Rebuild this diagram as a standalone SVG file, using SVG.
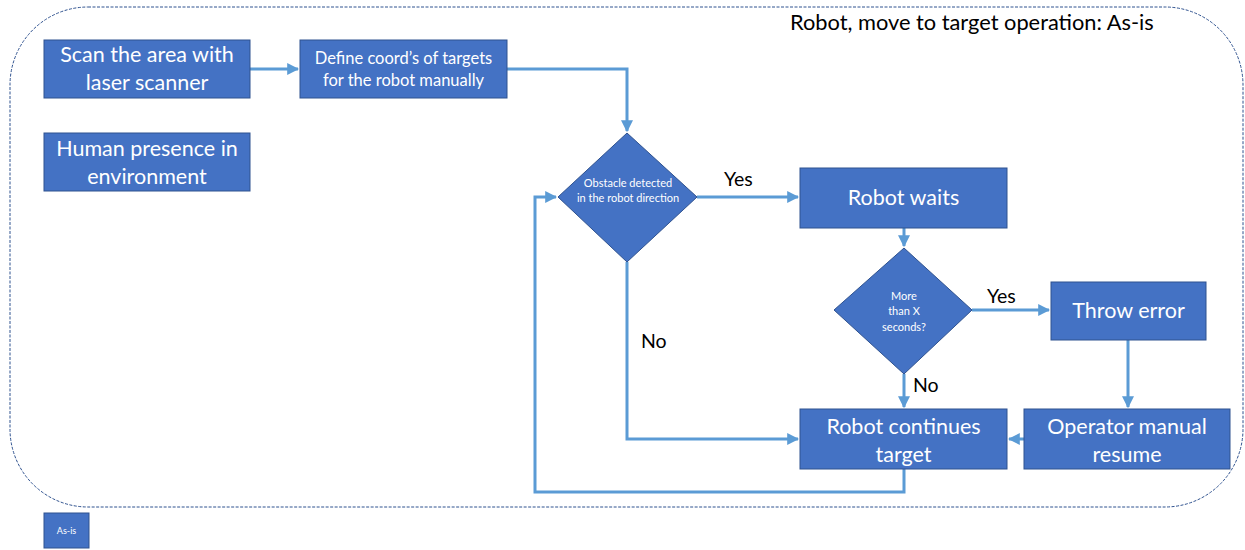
<svg xmlns="http://www.w3.org/2000/svg" width="1245" height="550" viewBox="0 0 1245 550">
  <style>
    .box { fill: #4472C4; stroke: #2F528F; stroke-width: 1; }
    .t { fill: #FFFFFF; font-family: Lato, "Open Sans", sans-serif; text-anchor: middle; }
    .big { font-size: 21.5px; }
    .mid { font-size: 16.5px; }
    .small { font-size: 11px; }
    .lbl { fill: #000000; font-family: Lato, "Open Sans", sans-serif; font-size: 19.5px; }
    .conn { fill: none; stroke: #5B9BD5; stroke-width: 3; }
  </style>
  <defs>
    <marker id="arrow" viewBox="0 0 10 10" refX="9" refY="5" markerWidth="4" markerHeight="4" orient="auto" markerUnits="strokeWidth">
      <path d="M0,0 L10,5 L0,10 z" fill="#5B9BD5"/>
    </marker>
  </defs>

  <rect width="1245" height="550" fill="#FFFFFF"/>

  <!-- process boundary -->
  <rect id="boundary" x="10" y="7" width="1233" height="500" rx="78" ry="78" fill="none" stroke="#2F528F" stroke-width="1" stroke-dasharray="3,1.5"/>
  <text id="title" x="790" y="30" font-family="Lato, 'Open Sans', sans-serif" font-size="21.8" fill="#000000">Robot, move to target operation: As-is</text>

  <!-- connectors -->
  <g id="connectors">
    <path class="conn" d="M250,69 L298,69" marker-end="url(#arrow)"/>
    <path class="conn" d="M507,69 L627,69 L627,131" marker-end="url(#arrow)"/>
    <path class="conn" d="M697,197 L798,197" marker-end="url(#arrow)"/>
    <path class="conn" d="M904,228 L904,246" marker-end="url(#arrow)"/>
    <path class="conn" d="M972,310 L1049,310" marker-end="url(#arrow)"/>
    <path class="conn" d="M904,374 L904,407" marker-end="url(#arrow)"/>
    <path class="conn" d="M1128,340 L1128,407" marker-end="url(#arrow)"/>
    <path class="conn" d="M1024,439 L1009,439" marker-end="url(#arrow)"/>
    <path class="conn" d="M627,262 L627,439 L798,439" marker-end="url(#arrow)"/>
    <path class="conn" d="M904,469 L904,492 L535,492 L535,197 L556,197" marker-end="url(#arrow)"/>
    <text class="lbl" x="724" y="186">Yes</text>
    <text class="lbl" x="987" y="303">Yes</text>
    <text class="lbl" x="641" y="348">No</text>
    <text class="lbl" x="913" y="392">No</text>
  </g>

  <g id="scan">
    <rect class="box" x="44" y="40" width="206" height="58"/>
    <text class="t big" x="147" y="62">Scan the area with</text>
    <text class="t big" x="147" y="90">laser scanner</text>
  </g>

  <g id="define">
    <rect class="box" x="300" y="40" width="207" height="58"/>
    <text class="t mid" x="403.5" y="64">Define coord’s of targets</text>
    <text class="t mid" x="403.5" y="86">for the robot manually</text>
  </g>

  <g id="human">
    <rect class="box" x="44" y="133" width="206" height="58"/>
    <text class="t big" x="147" y="156">Human presence in</text>
    <text class="t big" x="147" y="184">environment</text>
  </g>

  <g id="obstacle">
    <polygon class="box" points="627,133 697,197 627,262 558,197"/>
    <text class="t small" x="628" y="187">Obstacle detected</text>
    <text class="t small" x="628" y="202">in the robot direction</text>
  </g>

  <g id="waits">
    <rect class="box" x="800" y="168" width="207" height="60"/>
    <text class="t big" x="903.5" y="205">Robot waits</text>
  </g>

  <g id="timeout">
    <polygon class="box" points="904,248 972,310 904,374 834,310"/>
    <text class="t small" x="904" y="300">More</text>
    <text class="t small" x="904" y="315">than X</text>
    <text class="t small" x="904" y="331">seconds?</text>
  </g>

  <g id="error">
    <rect class="box" x="1051" y="282" width="155" height="58"/>
    <text class="t big" x="1128.5" y="318">Throw error</text>
  </g>

  <g id="continues">
    <rect class="box" x="800" y="409" width="207" height="60"/>
    <text class="t big" x="903.5" y="434">Robot continues</text>
    <text class="t big" x="903.5" y="462">target</text>
  </g>

  <g id="resume">
    <rect class="box" x="1024" y="409" width="206" height="60"/>
    <text class="t big" x="1127" y="434">Operator manual</text>
    <text class="t big" x="1127" y="462">resume</text>
  </g>

  <g id="asis">
    <rect class="box" x="44" y="513" width="45" height="35"/>
    <text class="t" x="66.5" y="534" font-size="9">As-is</text>
  </g>
</svg>
